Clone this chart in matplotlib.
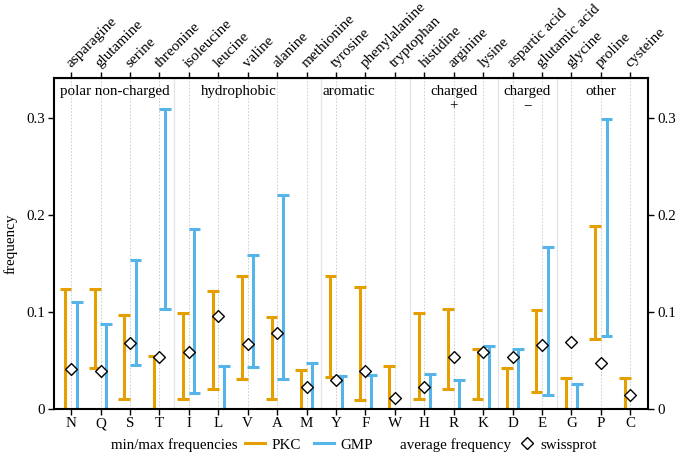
import numpy as np
import matplotlib
matplotlib.use("Agg")
import matplotlib.pyplot as plt
from matplotlib.lines import Line2D

plt.rcParams["font.family"] = ["Liberation Serif", "DejaVu Serif"]

# amino acids (one-letter codes and full names)
codes = ["N", "Q", "S", "T", "I", "L", "V", "A", "M", "Y",
         "F", "W", "H", "R", "K", "D", "E", "G", "P", "C"]
names = ["asparagine", "glutamine", "serine", "threonine", "isoleucine",
         "leucine", "valine", "alanine", "methionine", "tyrosine",
         "phenylalanine", "tryptophan", "histidine", "arginine", "lysine",
         "aspartic acid", "glutamic acid", "glycine", "proline", "cysteine"]

# min / max frequencies
pkc_min = [0.0, 0.0426, 0.010, 0.0, 0.010, 0.0203, 0.031, 0.010, 0.0, 0.0327,
           0.0093, 0.0, 0.010, 0.0203, 0.010, 0.0, 0.0175, 0.0, 0.0722, 0.0]
pkc_max = [0.1237, 0.1237, 0.097, 0.0546, 0.0986, 0.122, 0.137, 0.095, 0.0405, 0.137,
           0.1254, 0.0443, 0.0986, 0.103, 0.0615, 0.042, 0.102, 0.0316, 0.189, 0.0323]
gmp_min = [0.0, 0.0, 0.0454, 0.103, 0.0168, 0.0, 0.043, 0.0306, 0.0, 0.0,
           0.0, np.nan, 0.0, 0.0, 0.0, 0.0, 0.0141, 0.0, 0.0756, np.nan]
gmp_max = [0.1106, 0.0876, 0.153, 0.309, 0.185, 0.0443, 0.159, 0.220, 0.0474, 0.0344,
           0.035, np.nan, 0.036, 0.0299, 0.065, 0.0618, 0.167, 0.0258, 0.299, np.nan]

# average frequency in swissprot
swissprot = [0.041, 0.039, 0.068, 0.0533, 0.0584, 0.0962, 0.0667, 0.0787, 0.023, 0.0302,
             0.039, 0.011, 0.0224, 0.0536, 0.059, 0.0533, 0.0663, 0.0694, 0.0478, 0.0144]

# groups
group_labels = ["polar non-charged", "hydrophobic", "aromatic",
                "charged\n+", "charged\n\u2212", "other"]
group_pos = [1.5, 5.7, 9.45, 13.0, 15.5, 18.0]
separators = [3.5, 8.5, 11.5, 14.5, 16.5]

orange = "#E69F00"
blue = "#56B4E9"
fs = 10.8

fig = plt.figure(figsize=(6.76, 4.53), dpi=100)
ax = fig.add_axes([0.0799, 0.0971, 0.8787, 0.7307])

x = np.arange(len(codes))
off = 0.19

for xi in x:
    ax.axvline(xi, color="#c8c8c8", lw=0.6, ls=(0, (2, 2)), zorder=0)
for s in separators:
    ax.axvline(s, color="#e4e4e4", lw=0.9, zorder=0)

pmin = np.array(pkc_min)
pmax = np.array(pkc_max)
gmin = np.array(gmp_min)
gmax = np.array(gmp_max)

for xs, lo, hi, c in [(x - off, pmin, pmax, orange), (x + off, gmin, gmax, blue)]:
    ok = ~np.isnan(lo)
    ax.vlines(xs[ok], lo[ok], hi[ok], color=c, lw=2.2, zorder=2)
    ax.hlines(hi[ok], xs[ok] - 0.2, xs[ok] + 0.2, color=c, lw=2.2, zorder=2)
    ax.hlines(lo[ok], xs[ok] - 0.2, xs[ok] + 0.2, color=c, lw=2.2, zorder=2)

ax.scatter(x, swissprot, marker="D", s=36, facecolor="white",
           edgecolor="black", linewidth=1.0, zorder=3)

for lab, gx in zip(group_labels, group_pos):
    ax.text(gx, 0.334, lab, ha="center", va="top", fontsize=fs,
            linespacing=1.1)

ax.set_xlim(-0.58, 19.6)
ax.set_ylim(0, 0.341)
ax.set_xticks(x)
ax.set_xticklabels(codes, fontsize=fs)
ax.set_yticks([0, 0.1, 0.2, 0.3])
ax.set_yticklabels(["0", "0.1", "0.2", "0.3"], fontsize=fs)
ax.set_ylabel("frequency", fontsize=fs, labelpad=6)
ax.tick_params(axis="y", right=True, labelright=True, direction="out",
               length=4, width=1, pad=2.5)
ax.tick_params(axis="x", direction="out", length=4, width=1, pad=2)
for sp in ax.spines.values():
    sp.set_linewidth(1.5)

top = ax.secondary_xaxis("top")
top.set_xticks(x)
top.set_xticklabels(names, rotation=45, ha="left", va="baseline",
                    rotation_mode="anchor", fontsize=11)
top.tick_params(direction="out", length=4, width=1, pad=3)

# legend row
ly = 0.0177
fig.text(111 / 676, ly, "min/max frequencies", ha="left", va="center",
         fontsize=fs)
fig.text(400 / 676, ly, "average frequency", ha="left", va="center",
         fontsize=fs)
leg1 = fig.legend([Line2D([], [], color=orange, lw=2.2),
                   Line2D([], [], color=blue, lw=2.2)], ["PKC", "GMP"],
                  loc="center left", bbox_to_anchor=(245 / 676, ly), ncol=2,
                  frameon=False, fontsize=fs, handlelength=1.35,
                  handletextpad=0.4, columnspacing=0.9, borderpad=0,
                  borderaxespad=0)
leg2 = fig.legend([Line2D([], [], marker="D", color="black", mfc="white",
                          linestyle="none", markersize=6, mew=1.0)],
                  ["swissprot"], loc="center left",
                  bbox_to_anchor=(518 / 676, ly), frameon=False, fontsize=fs,
                  handlelength=1.2, handletextpad=0.3, borderpad=0,
                  borderaxespad=0)

fig.savefig("out.png", dpi=100)
